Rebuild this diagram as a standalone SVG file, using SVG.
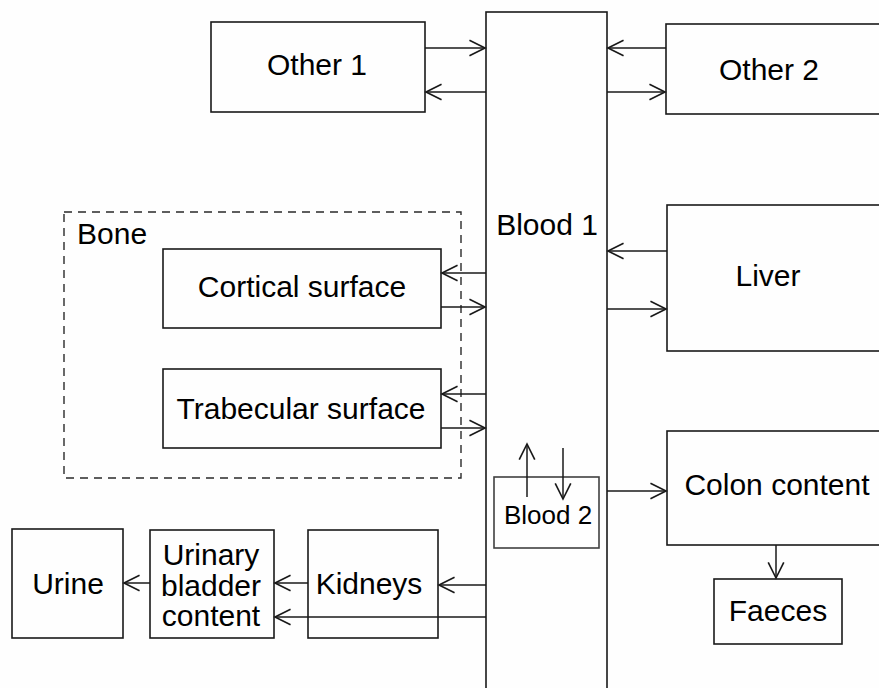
<svg xmlns="http://www.w3.org/2000/svg" width="879" height="688" viewBox="0 0 879 688">
  <defs>
    <style>
      .box { fill: none; stroke: #1a1a1a; stroke-width: 1.6; }
      .inner { fill: none; stroke: #404040; stroke-width: 1.6; }
      .group { fill: none; stroke: #2a2a2a; stroke-width: 1.4; stroke-dasharray: 8 6; }
      .lbl { font-family: "Liberation Sans", Arial, sans-serif; font-size: 30px; fill: #000; text-anchor: middle; }
      .small { font-size: 26px; }
      .flow line { stroke: #1a1a1a; stroke-width: 1.5; marker-end: url(#head); }
    </style>
    <marker id="head" markerUnits="userSpaceOnUse" markerWidth="20" markerHeight="20" viewBox="-16 -9 18 18" refX="0" refY="0" orient="auto">
      <path d="M-14,-7 L0,0 L-14,7" fill="none" stroke="#1a1a1a" stroke-width="1.5"/>
    </marker>
  </defs>

  <rect width="879" height="688" fill="#fefefe"/>

  <g id="bone">
    <rect class="group" x="64" y="212" width="397" height="266"/>
    <text class="lbl" x="77" y="244" style="text-anchor:start">Bone</text>
  </g>

  <g id="blood1">
    <rect class="box" x="486" y="12" width="121" height="690"/>
    <text class="lbl" x="547" y="235">Blood 1</text>
  </g>

  <g id="blood2">
    <rect class="inner" x="494" y="477" width="105" height="71"/>
    <text class="lbl small" x="548" y="524">Blood 2</text>
  </g>

  <g id="other1">
    <rect class="box" x="211" y="22" width="214" height="90"/>
    <text class="lbl" x="317" y="75">Other 1</text>
  </g>

  <g id="other2">
    <rect class="box" x="666" y="24" width="230" height="90"/>
    <text class="lbl" x="769" y="80">Other 2</text>
  </g>

  <g id="liver">
    <rect class="box" x="667" y="205" width="230" height="146"/>
    <text class="lbl" x="768" y="286">Liver</text>
  </g>

  <g id="cortical">
    <rect class="box" x="163" y="249" width="278" height="79"/>
    <text class="lbl" x="302" y="297">Cortical surface</text>
  </g>

  <g id="trabecular">
    <rect class="box" x="163" y="369" width="278" height="79"/>
    <text class="lbl" x="301" y="419">Trabecular surface</text>
  </g>

  <g id="colon">
    <rect class="box" x="667" y="431" width="230" height="114"/>
    <text class="lbl" x="777" y="495">Colon content</text>
  </g>

  <g id="faeces">
    <rect class="box" x="714" y="579" width="128" height="65"/>
    <text class="lbl" x="778" y="621">Faeces</text>
  </g>

  <g id="kidneys">
    <rect class="box" x="308" y="530" width="130" height="108"/>
    <text class="lbl" x="369" y="594">Kidneys</text>
  </g>

  <g id="bladder">
    <rect class="box" x="150" y="530" width="124" height="108"/>
    <text class="lbl" x="211" y="565">Urinary</text>
    <text class="lbl" x="211" y="596">bladder</text>
    <text class="lbl" x="211" y="626">content</text>
  </g>

  <g id="urine">
    <rect class="box" x="12" y="529" width="111" height="109"/>
    <text class="lbl" x="68" y="594">Urine</text>
  </g>

  <g id="connectors" class="flow">
    <line x1="425" y1="48" x2="485" y2="48"/>
    <line x1="486" y1="92" x2="426" y2="92"/>
    <line x1="666" y1="48" x2="608" y2="48"/>
    <line x1="607" y1="92" x2="665" y2="92"/>
    <line x1="667" y1="251" x2="608" y2="251"/>
    <line x1="607" y1="309" x2="666" y2="309"/>
    <line x1="486" y1="273" x2="442" y2="273"/>
    <line x1="441" y1="307" x2="485" y2="307"/>
    <line x1="486" y1="394" x2="442" y2="394"/>
    <line x1="441" y1="428" x2="485" y2="428"/>
    <line x1="527" y1="497" x2="527" y2="444"/>
    <line x1="563" y1="448" x2="563" y2="499"/>
    <line x1="607" y1="491" x2="666" y2="491"/>
    <line x1="776" y1="545" x2="776" y2="578"/>
    <line x1="486" y1="585" x2="439" y2="585"/>
    <line x1="486" y1="617" x2="275" y2="617"/>
    <line x1="308" y1="583" x2="275" y2="583"/>
    <line x1="150" y1="583" x2="124" y2="583"/>
  </g>
</svg>
